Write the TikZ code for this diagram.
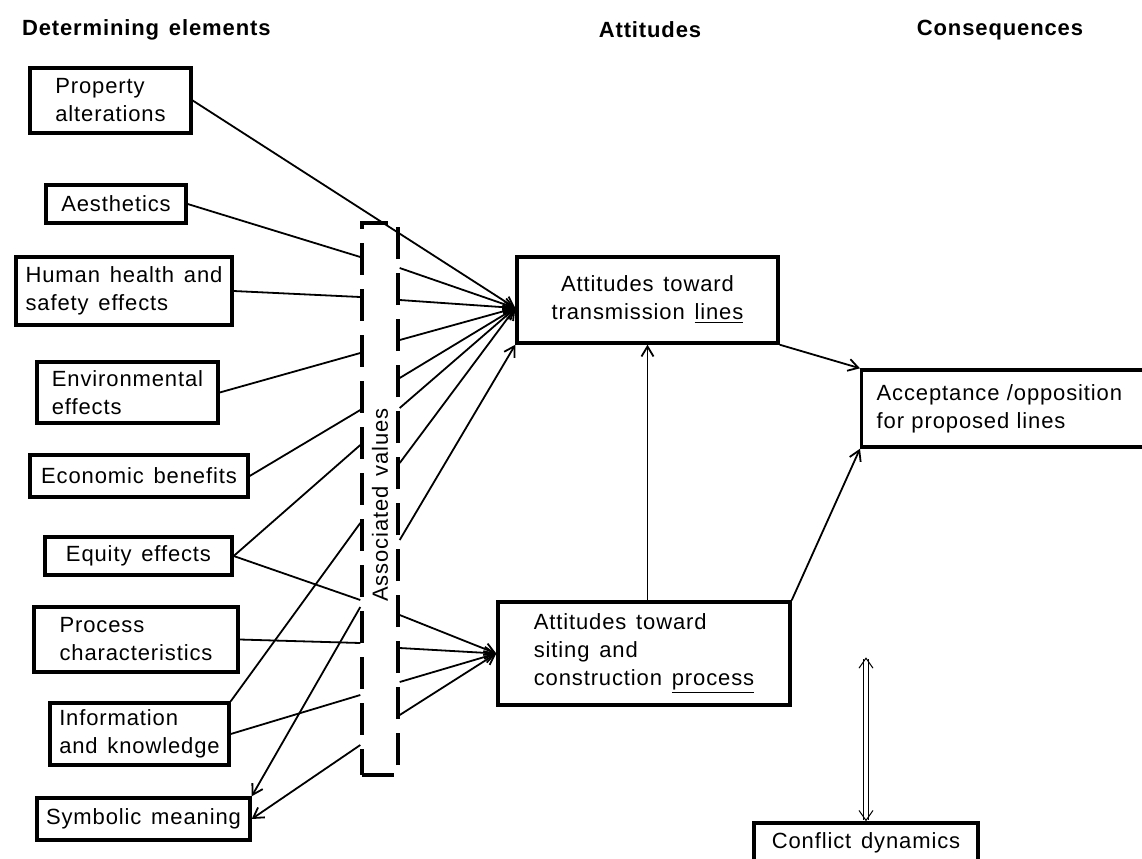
\documentclass[tikz,border=0pt]{standalone}
\usepackage{fontspec}
\setmainfont[LetterSpace=4,WordSpace=1.4]{Liberation Sans}
\usetikzlibrary{arrows.meta}

\begin{document}
\begin{tikzpicture}[x=0.5pt, y=-0.5pt, font=\fontsize{11}{14}\selectfont,
    elem/.style={rectangle, draw, line width=1.7pt, align=left, inner sep=0pt},
    att/.style={rectangle, draw, line width=1.7pt, inner sep=0pt},
    head/.style={font=\fontsize{11}{14}\selectfont\bfseries},
    link/.style={line width=0.9pt},
    arr/.style={link, -{Straight Barb[length=5pt,width=6pt]}},
    dbl/.style={line width=0.5pt, double, double distance=1.6pt,
        {Straight Barb[length=5pt,width=7pt]}-{Straight Barb[length=5pt,width=7pt]}}]
    \clip (0,0) rectangle (1142,858);

    % Define headings
    \node [head, anchor=west] (hdet) at (15,30) {Determining elements};
    \node [head] (hatt) at (650,30) {Attitudes};
    \node [head] (hcon) at (1000,30) {Consequences};

    % Define blocks
    \node [elem, minimum width=80.5pt, minimum height=32.5pt] (prop) at (110.5,100.5) {Property\\alterations};
    \node [elem, minimum width=70pt, minimum height=19pt] (aes) at (116,204) {Aesthetics};
    \node [elem, minimum width=108pt, minimum height=34pt] (hum) at (124,291) {Human health and\\safety effects};
    \node [elem, minimum width=90.5pt, minimum height=30.5pt] (env) at (127.5,392.5) {Environmental\\effects};
    \node [elem, minimum width=109pt, minimum height=21pt] (eco) at (139,476) {Economic benefits};
    \node [elem, minimum width=93.5pt, minimum height=19pt] (equ) at (138.5,556) {Equity effects};
    \node [elem, minimum width=102pt, minimum height=32.5pt] (pro) at (136,639.5) {Process\\characteristics};
    \node [elem, minimum width=89.5pt, minimum height=31pt] (inf) at (139.5,734) {Information\\and knowledge};
    \node [elem, minimum width=106.5pt, minimum height=21pt] (sym) at (143.5,819) {Symbolic meaning};

    \node [draw, line width=1.7pt, dash pattern=on 16pt off 7pt, minimum width=18pt, minimum height=276pt] (vals) at (380,499) {};
    \node [rotate=90] (valslbl) at (380,505) {Associated values};

    \node [att, align=center, minimum width=130.5pt, minimum height=43pt] (trans) at (647.5,300) {Attitudes toward\\transmission \underline{lines}};
    \node [att, align=left, minimum width=146pt, minimum height=51.5pt] (siting) at (644,653.5) {Attitudes toward\\siting and\\construction \underline{process}};
    \node [att, align=left, anchor=west, minimum height=38.5pt, text width=135pt, inner xsep=7.5pt] (acc) at (860,408.5) {Acceptance /opposition\\for proposed lines};
    \node [att, minimum width=112pt, minimum height=20pt] (conf) at (866,843) {Conflict dynamics};

    % Define ports
    \foreach \y [count=\i] in {257,297,353,410,445,523,600,607,643,695,745}
        \coordinate (vl\i) at (vals.west |- 0,\y);
    \foreach \y [count=\i] in {268,300,340,378,408,463,540,615,648,682,715}
        \coordinate (vr\i) at (vals.east |- 0,\y);
    \coordinate (tin) at ([yshift=-4pt]trans.west);
    \coordinate (dyn) at ([yshift=82pt]conf.north);

    % Define arrows
    \draw [arr] (prop.east) -- (tin);
    \draw [link] (aes.east) -- (vl1);
    \draw [link] (hum.east) -- (vl2);
    \draw [link] (env.east) -- (vl3);
    \draw [link] (eco.east) -- (vl4);
    \draw [link] (equ.east) -- (vl5);
    \draw [link] (inf.north east) -- (vl6);
    \draw [link] (equ.east) -- (vl7);
    \draw [arr] (vl8) -- (sym.north east);
    \draw [link] (pro.east) -- (vl9);
    \draw [link] (inf.east) -- (vl10);
    \draw [arr] (vl11) -- (sym.east);

    \foreach \i in {1,...,6}
        \draw [arr] (vr\i) -- (tin);
    \draw [arr] (vr7) -- (trans.south west);
    \foreach \i in {8,...,11}
        \draw [arr] (vr\i) -- (siting.west);

    \draw [arr] (siting.north -| trans.south) -- (trans.south);
    \draw [arr] (trans.south east) -- (acc.north west);
    \draw [arr] (siting.north east) -- (acc.south west);
    \draw [dbl] (conf.north) -- (dyn);
\end{tikzpicture}
\end{document}
